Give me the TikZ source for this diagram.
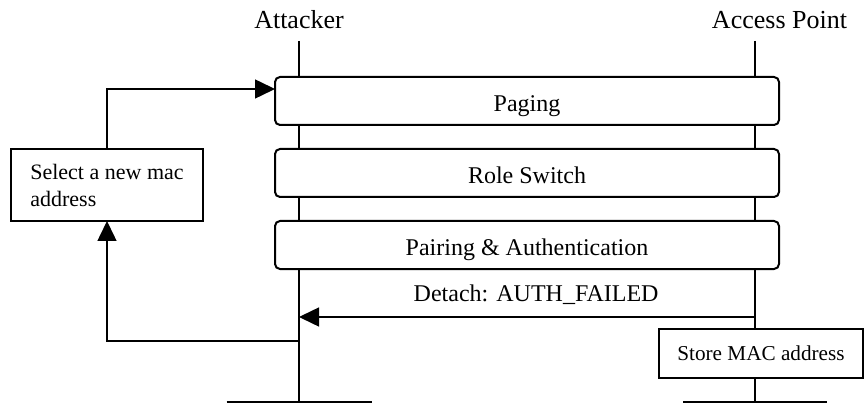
\documentclass[tikz,border=0pt]{standalone}
\usepackage{fontspec}
\setmainfont{Liberation Serif}
\usetikzlibrary{positioning, arrows.meta, calc}

\begin{document}
\begin{tikzpicture}[x=0.5pt, y=-0.5pt,
    phase/.style={draw, line width=1pt, rounded corners=2.5pt, fill=white, minimum width=252pt, minimum height=24pt, text height=11pt, text depth=0pt, outer sep=0pt, font=\fontsize{12}{14}\selectfont},
    action/.style={draw, line width=1pt, fill=white, outer sep=0pt},
    actor/.style={anchor=base, font=\fontsize{13}{15.6}\selectfont},
    lifeline/.style={line width=0.75pt},
    msg/.style={line width=0.75pt, -{Triangle[length=10pt, width=9.5pt]}},
    endbar/.style={line width=1pt}]
    \useasboundingbox (0, 0) rectangle (865, 405);

    % actors and lifelines
    \node (attacker) [actor] at (299, 29) {Attacker};
    \node (ap) [actor] at (779.5, 29) {Access Point};
    \coordinate (atktop) at (299, 41);
    \coordinate (atkend) at (299, 402);
    \coordinate (aptop) at (755, 41);
    \coordinate (apend) at (755, 402);
    \draw [lifeline] (atktop) -- (atkend);
    \draw [lifeline] (aptop) -- (apend);
    \draw [endbar] ($(atkend)+(-72.5, 0)$) -- ($(atkend)+(72.5, 0)$);
    \draw [endbar] ($(apend)+(-72, 0)$) -- ($(apend)+(72, 0)$);

    % phases
    \node (paging) [phase] at (527, 101) {Paging};
    \node (role) [phase, below=12pt of paging] {Role Switch};
    \node (pairing) [phase, below=12pt of role] {Pairing \& Authentication};

    \node (select) [action, align=left, minimum width=96pt, minimum height=36pt, font=\fontsize{11}{13.5}\selectfont] at (107, 185) {Select a new mac\\address};
    \node (store) [action, minimum width=102pt, minimum height=24.5pt, text height=6.5pt, text depth=0pt, font=\fontsize{10.6}{13}\selectfont] at (761, 353.5) {Store MAC address};

    % messages
    \coordinate (apdetach) at (755, 317);
    \coordinate (atkdetach) at (299, 317);
    \coordinate (retry) at (299, 341);
    \draw [msg] (apdetach) -- node (detachlbl) [pos=0.48, above=4pt, text depth=0pt, font=\fontsize{12}{14}\selectfont] {Detach: AUTH\_FAILED} (atkdetach);
    \draw [msg] (retry) -| (select.south);
    \draw [msg] (select.north) |- ($(paging.north west)!0.25!(paging.south west)$);
\end{tikzpicture}
\end{document}
